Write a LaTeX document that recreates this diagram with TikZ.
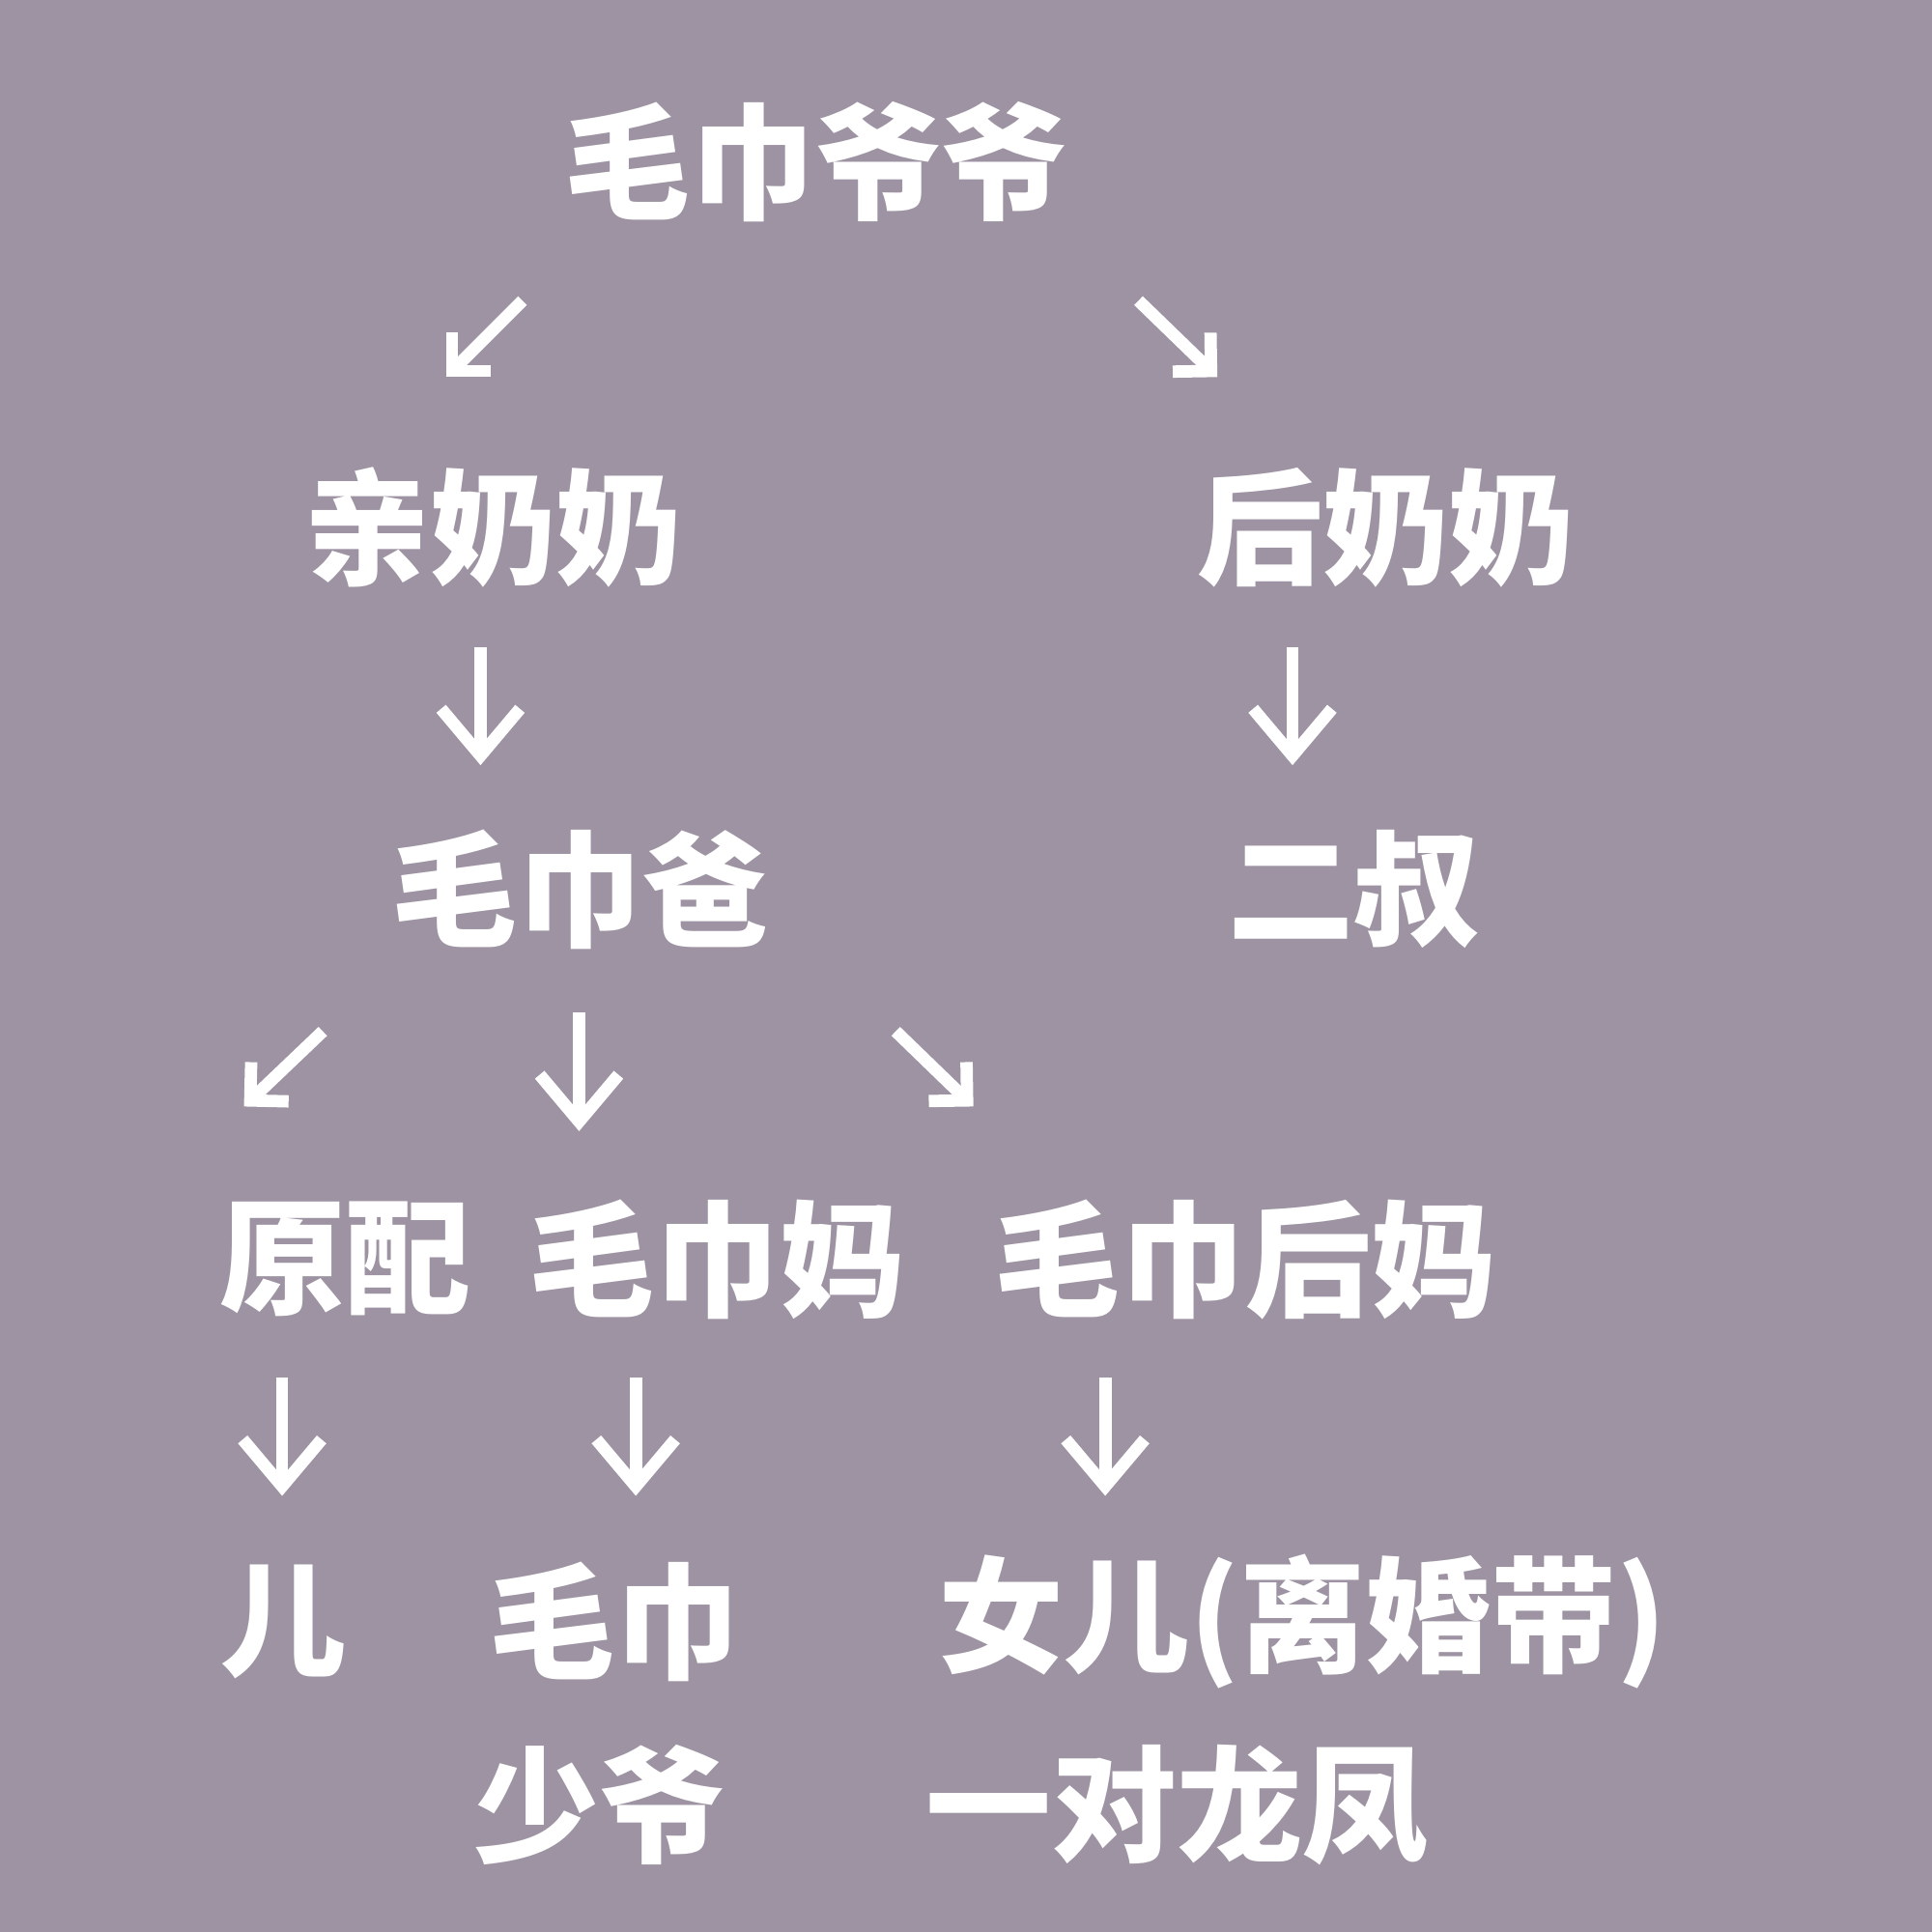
\documentclass[tikz,border=0pt]{standalone}
\usepackage{fontspec}
\usetikzlibrary{arrows.meta}
\newfontfamily\cjk{Noto Sans CJK SC}
\definecolor{bgpurple}{HTML}{9D93A2}

\begin{document}
\begin{tikzpicture}[x=0.1mm,y=0.1mm,
	person/.style={text=white,font=\cjk\bfseries\fontsize{29pt}{29pt}\selectfont,inner sep=0pt},
	down/.style={draw=white,line width=1mm,-{Straight Barb[length=3.8mm,width=6.4mm,line join=miter]}},
	slant/.style={draw=white,line width=1mm,-{Straight Barb[length=2.2mm,width=4.4mm,line join=miter]}}]
	\fill[bgpurple] (0,0) rectangle (1568,-1568);

	\node[person] (ye) at (662,-131) {毛巾爷爷};
	\node[person] (qin) at (400,-428) {亲奶奶};
	\node[person] (hou) at (1125,-428) {后奶奶};
	\node[person] (ba) at (471,-722) {毛巾爸};
	\node[person] (shu) at (1099,-722) {二叔};
	\node[person] (yuan) at (280,-1022) {原配};
	\node[person] (ma) at (582,-1022) {毛巾妈};
	\node[person] (houma) at (1011,-1022) {毛巾后妈};
	\node[person] (er) at (230,-1316) {儿};
	\node[person,anchor=west] (mj) at (396,-1316) {毛巾};
	\node[person,anchor=west] (sy) at (384,-1465) {少爷};
	\node[person,anchor=west] (nv) at (761,-1316) {女儿(离婚带)};
	\node[person,anchor=west] (lf) at (751,-1465) {一对龙凤};

	\coordinate (s1) at (424,-244);  \coordinate (t1) at (362,-306);
	\coordinate (s2) at (924,-244);  \coordinate (t2) at (988,-306);
	\coordinate (s3) at (390,-525);  \coordinate (t3) at (390,-621);
	\coordinate (s4) at (1049,-525); \coordinate (t4) at (1049,-621);
	\coordinate (s5) at (262,-837);  \coordinate (t5) at (198,-898);
	\coordinate (s6) at (470,-822);  \coordinate (t6) at (470,-918);
	\coordinate (s7) at (727,-837);  \coordinate (t7) at (790,-898);
	\coordinate (s8) at (229,-1118); \coordinate (t8) at (229,-1214);
	\coordinate (s9) at (516,-1118); \coordinate (t9) at (516,-1214);
	\coordinate (s10) at (897,-1118); \coordinate (t10) at (897,-1214);

	\draw [slant] (s1) -- (t1);
	\draw [slant] (s2) -- (t2);
	\draw [down] (s3) -- (t3);
	\draw [down] (s4) -- (t4);
	\draw [slant] (s5) -- (t5);
	\draw [down] (s6) -- (t6);
	\draw [slant] (s7) -- (t7);
	\draw [down] (s8) -- (t8);
	\draw [down] (s9) -- (t9);
	\draw [down] (s10) -- (t10);
\end{tikzpicture}
\end{document}
